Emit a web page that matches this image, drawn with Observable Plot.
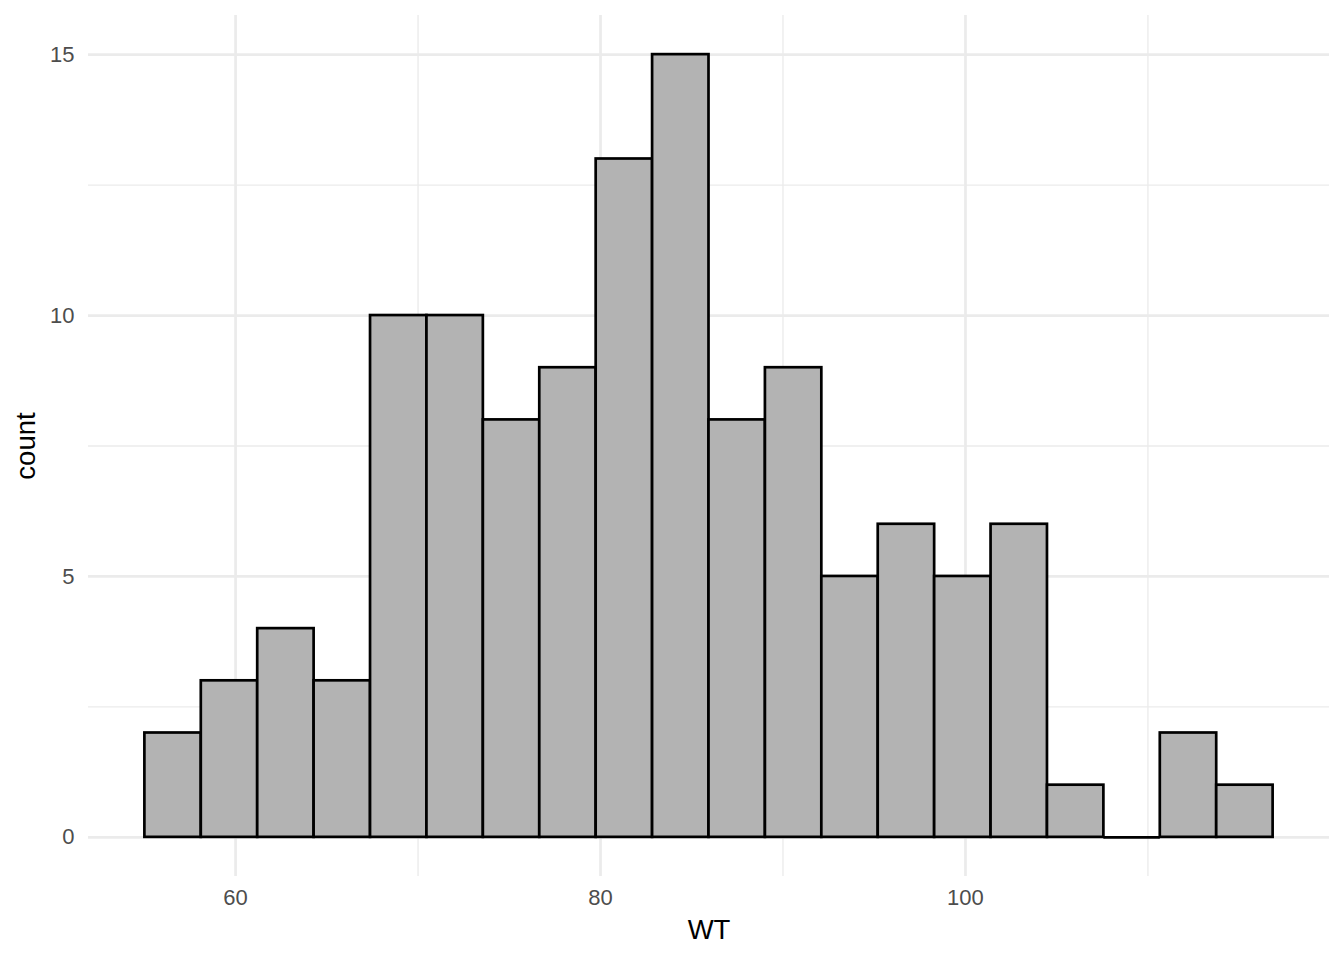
<!DOCTYPE html>
<html><head><meta charset="utf-8">
<script src="https://cdn.jsdelivr.net/npm/d3@7"></script>
<script src="https://cdn.jsdelivr.net/npm/@observablehq/plot@0.6"></script>
<style>body{margin:0;background:#fff;}</style>
</head><body><div id="chart"></div>
<script>
const binStart = 55.03;
const binWidth = 3.0915;
const counts = [2, 3, 4, 3, 10, 10, 8, 9, 13, 15, 8, 9, 5, 6, 5, 6, 1, 0, 2, 1];
const xTicks = [60, 80, 100];
const xMinor = [70, 90, 110];
const yTicks = [0, 5, 10, 15];
const yMinor = [2.5, 7.5, 12.5];
const xLabel = "WT";
const yLabel = "count";

const bins = counts.map((c, i) => ({x1: binStart + i * binWidth, x2: binStart + (i + 1) * binWidth, count: c}));

const chart = Plot.plot({
  width: 1344, height: 960,
  marginLeft: 88, marginRight: 15, marginTop: 15, marginBottom: 84,
  style: {fontFamily: "'Liberation Sans', Arial, Helvetica, sans-serif", background: "#fff"},
  x: {domain: [51.94, 119.95], axis: null},
  y: {domain: [-0.75, 15.75], axis: null},
  marks: [
    Plot.ruleY(yMinor, {stroke: "#EBEBEB", strokeWidth: 1.35}),
    Plot.ruleX(xMinor, {stroke: "#EBEBEB", strokeWidth: 1.35}),
    Plot.ruleY(yTicks, {stroke: "#EBEBEB", strokeWidth: 2.7}),
    Plot.ruleX(xTicks, {stroke: "#EBEBEB", strokeWidth: 2.7}),
    Plot.rect(bins.filter(d => d.count > 0), {x1: "x1", x2: "x2", y1: 0, y2: "count", fill: "#B3B3B3", stroke: "black", strokeWidth: 2.7}),
    Plot.ruleY(bins.filter(d => d.count === 0), {x1: "x1", x2: "x2", y: 0, stroke: "black", strokeWidth: 2.7}),
    Plot.text(xTicks, {x: d => d, frameAnchor: "bottom", dy: 21, lineAnchor: "middle", textAnchor: "middle", fontSize: 22, fill: "#4D4D4D", text: d => String(d)}),
    Plot.text(yTicks, {y: d => d, frameAnchor: "left", dx: -14, textAnchor: "end", lineAnchor: "middle", fontSize: 22, fill: "#4D4D4D", text: d => String(d)}),
    Plot.text([xLabel], {frameAnchor: "bottom", dy: 54, lineAnchor: "middle", textAnchor: "middle", fontSize: 27.5, fill: "black"}),
    Plot.text([yLabel], {frameAnchor: "left", dx: -62, rotate: -90, textAnchor: "middle", lineAnchor: "middle", fontSize: 27.5, fill: "black"})
  ]
});
document.getElementById("chart").appendChild(chart);
</script>
</body></html>
